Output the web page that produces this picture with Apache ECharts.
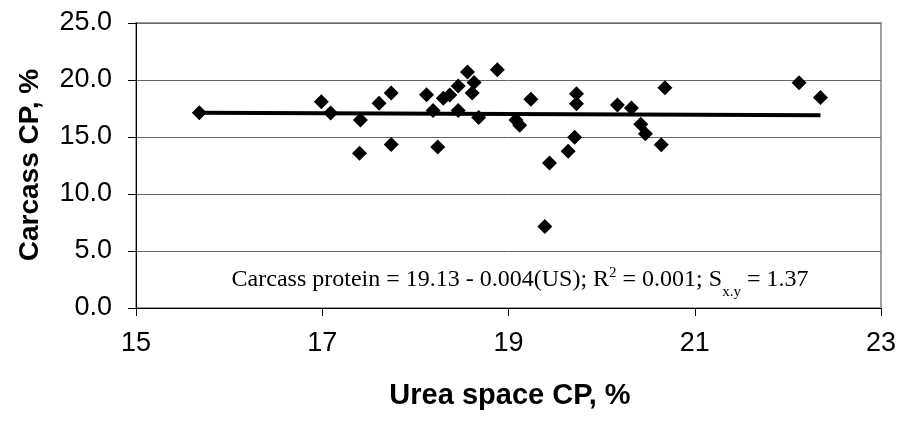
<!DOCTYPE html>
<html>
<head>
<meta charset="utf-8">
<script src="https://cdn.jsdelivr.net/npm/echarts@6/dist/echarts.min.js"></script>
<style>html,body{margin:0;padding:0;background:#fff}#c{width:902px;height:421px}</style>
</head>
<body>
<div id="c"></div>
<script>
// Urea space CP (%) for each animal
const ureaSpaceCP = [15.68, 16.99, 17.09, 17.41, 17.40, 17.61, 17.74, 17.74, 18.12, 18.19,
  18.24, 18.30, 18.37, 18.46, 18.46, 18.56, 18.63, 18.61, 18.68, 18.88,
  19.08, 19.12, 19.24, 19.44, 19.39, 19.64, 19.71, 19.73, 19.73, 20.17,
  20.32, 20.42, 20.47, 20.64, 20.68, 22.12, 22.35];
// Carcass CP (%) for each animal
const carcassCP = [17.13, 18.10, 17.10, 16.49, 13.58, 17.95, 18.85, 14.35, 18.70, 17.32,
  14.13, 18.40, 18.68, 19.47, 17.32, 20.70, 19.78, 18.86, 16.70, 20.90,
  16.50, 16.02, 18.32, 12.72, 7.15, 13.75, 14.97, 18.80, 17.92, 17.80,
  17.55, 16.12, 15.29, 14.33, 19.33, 19.76, 18.47];
// Regression line end points
const trendX = [15.68, 22.35];
const trendY = [17.13, 16.90];
// Axis ticks
const xTicks = [15, 17, 19, 21, 23];
const yTicks = [0, 5, 10, 15, 20, 25];

const points = ureaSpaceCP.map((x, i) => [x, carcassCP[i]]);
const trend = trendX.map((x, i) => [x, trendY[i]]);

const serif = '"Liberation Serif", "Times New Roman", serif';
const chart = echarts.init(document.getElementById('c'));
chart.setOption({
  animation: false,
  backgroundColor: '#ffffff',
  grid: {left: 136, right: 21, top: 23, bottom: 113, show: true,
    borderColor: '#a0a0a0', borderWidth: 2, backgroundColor: 'transparent'},
  xAxis: {
    type: 'value', min: xTicks[0], max: xTicks[xTicks.length - 1], interval: 2,
    axisLine: {show: true, onZero: false, lineStyle: {color: '#000', width: 1}},
    axisTick: {show: true, inside: false, length: 8, lineStyle: {color: '#000'}},
    axisLabel: {fontFamily: 'Liberation Sans, Arial', fontSize: 27, color: '#000', margin: 22},
    splitLine: {show: false}
  },
  yAxis: {
    type: 'value', min: yTicks[0], max: yTicks[yTicks.length - 1], interval: 5,
    axisLine: {show: true, lineStyle: {color: '#000', width: 1}},
    axisTick: {show: true, inside: false, length: 8, lineStyle: {color: '#000'}},
    axisLabel: {fontFamily: 'Liberation Sans, Arial', fontSize: 27, color: '#000', margin: 24,
      formatter: v => v.toFixed(1)},
    splitLine: {show: true, lineStyle: {color: '#666', width: 1}}
  },
  series: [
    {type: 'line', data: trend, symbol: 'none', lineStyle: {color: '#000', width: 4}, z: 2},
    {type: 'scatter', data: points, symbol: 'diamond', symbolSize: [15, 15],
      itemStyle: {color: '#000', opacity: 1}, z: 3}
  ],
  graphic: [
    {type: 'text', position: [510, 396], style: {
      text: 'Urea space CP, %', font: 'bold 29px "Liberation Sans", Arial',
      fill: '#000', textAlign: 'center', textVerticalAlign: 'middle'}},
    {type: 'text', rotation: Math.PI / 2, position: [30, 165], style: {
      text: 'Carcass CP, %', font: 'bold 28px "Liberation Sans", Arial',
      fill: '#000', textAlign: 'center', textVerticalAlign: 'middle'}},
    {type: 'text', position: [520, 280], style: {
      text: '{m|Carcass protein = 19.13 - 0.004(US); R}{sup|2}{m| = 0.001; S}{sub|x.y}{m| = 1.37}',
      textAlign: 'center', textVerticalAlign: 'middle', fill: '#000',
      rich: {
        m: {fontFamily: serif, fontSize: 24, lineHeight: 28, color: '#000'},
        sup: {fontFamily: serif, fontSize: 15, lineHeight: 15, verticalAlign: 'top', color: '#000'},
        sub: {fontFamily: serif, fontSize: 15, lineHeight: 15, verticalAlign: 'bottom', color: '#000', padding: [0, 0, -6, 0]}
      }}}
  ]
});
</script>
</body>
</html>
